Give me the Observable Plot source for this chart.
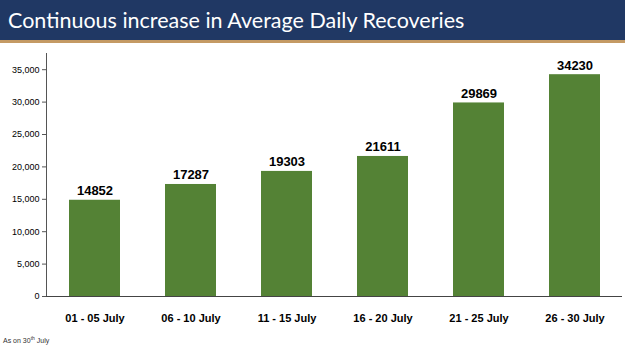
<!DOCTYPE html>
<html>
<head>
<meta charset="utf-8">
<script src="https://cdn.jsdelivr.net/npm/d3@7"></script>
<script src="https://cdn.jsdelivr.net/npm/@observablehq/plot@0.6"></script>
<style>
  html, body { margin: 0; padding: 0; background: #fff; width: 625px; height: 351px; overflow: hidden; position: relative; }
  #title { position: absolute; left: 0; top: 0; width: 625px; height: 40px; background: #203864; border-bottom: 3px solid #c49a64; box-sizing: content-box; }
  #title span { position: absolute; left: 8px; top: 7px; color: #fff; font-family: Lato, "Open Sans", sans-serif; font-size: 21.5px; white-space: nowrap; }
  #chart { position: absolute; left: 0; top: 43px; }
  #note { position: absolute; left: 3px; top: 335px; font-family: "Liberation Sans", sans-serif; font-size: 7px; color: #333; }
  #note sup { font-size: 5px; }
</style>
</head>
<body>
<div id="title"><span>Continuous increase in Average Daily Recoveries</span></div>
<div id="chart"></div>
<div id="note">As on 30<sup>th</sup> July</div>
<script>
const categories = ["01 - 05 July", "06 - 10 July", "11 - 15 July", "16 - 20 July", "21 - 25 July", "26 - 30 July"];
const recoveries = [14852, 17287, 19303, 21611, 29869, 34230];
const yTicks = [0, 5000, 10000, 15000, 20000, 25000, 30000, 35000];

const data = categories.map((c, i) => ({category: c, value: recoveries[i]}));

const chart = Plot.plot({
  width: 625,
  height: 290,
  marginLeft: 46,
  marginRight: 3,
  marginTop: 10,
  marginBottom: 37,
  style: {fontFamily: "'Liberation Sans', sans-serif", background: "transparent"},
  x: {domain: categories, paddingInner: 0.47, paddingOuter: 0.235, label: null},
  y: {domain: [0, 37500], label: null},
  marks: [
    Plot.barY(data, {x: "category", y: "value", fill: "#548235"}),
    Plot.text(data, {x: "category", y: "value", text: d => String(d.value), lineAnchor: "bottom", dy: -5, fontSize: 13, fontWeight: "bold", fill: "#000"}),
    Plot.axisY({ticks: yTicks, tickFormat: d => d3.format(",")(d), tickSize: 4, tickPadding: 3, fontSize: 9, stroke: "#555", strokeOpacity: 1, fill: "#000"}),
    Plot.frame({anchor: "left", stroke: "#555", strokeOpacity: 1}),
    Plot.axisX({tickSize: 0, tickPadding: 18, fontSize: 11, fontWeight: "bold", fill: "#000"}),
    Plot.ruleY([0], {stroke: "#444"})
  ]
});
document.getElementById("chart").appendChild(chart);
</script>
</body>
</html>
